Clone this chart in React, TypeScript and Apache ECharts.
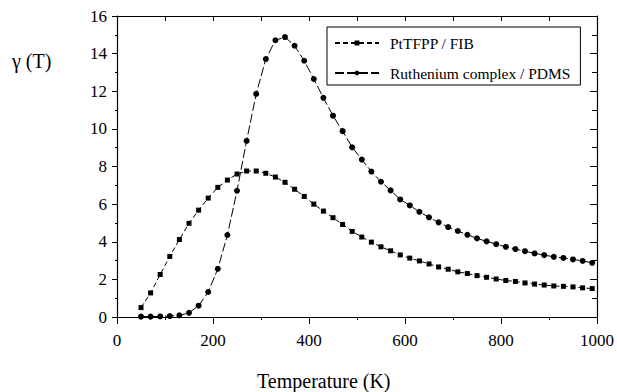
import React, { useEffect, useRef } from "react";
import * as echarts from "echarts";

const temperatures = [
  50, 70, 90, 110, 130, 150, 170, 190, 210, 230, 250, 270, 290, 310, 330, 350,
  370, 390, 410, 430, 450, 470, 490, 510, 530, 550, 570, 590, 610, 630, 650, 670,
  690, 710, 730, 750, 770, 790, 810, 830, 850, 870, 890, 910, 930, 950, 970, 990,
];

const ptValues = [
  0.5, 1.28, 2.26, 3.22, 4.12, 4.98, 5.68, 6.32, 6.89, 7.28, 7.6, 7.76, 7.76, 7.64, 7.44, 7.16,
  6.79, 6.41, 6.0, 5.63, 5.28, 4.92, 4.55, 4.25, 3.98, 3.73, 3.52, 3.3, 3.13, 2.98, 2.82, 2.66,
  2.54, 2.4, 2.31, 2.2, 2.11, 2.02, 1.94, 1.89, 1.81, 1.75, 1.7, 1.65, 1.63, 1.6, 1.55, 1.51,
];

const ruValues = [
  0.02, 0.02, 0.03, 0.05, 0.09, 0.22, 0.6, 1.33, 2.56, 4.36, 6.71, 9.36, 11.86, 13.71, 14.71, 14.88,
  14.42, 13.62, 12.65, 11.65, 10.7, 9.88, 9.02, 8.37, 7.73, 7.19, 6.73, 6.25, 5.93, 5.59, 5.3, 5.03,
  4.78, 4.57, 4.37, 4.18, 4.02, 3.87, 3.73, 3.61, 3.5, 3.38, 3.29, 3.2, 3.14, 3.06, 2.98, 2.88,
];

const seriesNames = ["PtTFPP / FIB", "Ruthenium complex / PDMS"];
const xAxisTitle = "Temperature (K)";
const yAxisTitle = "γ (T)";

const FONT = "Liberation Serif, Times New Roman, serif";

export default function App() {
  const ref = useRef<HTMLDivElement>(null);

  useEffect(() => {
    if (!ref.current) return;
    const chart = echarts.init(ref.current, null, { renderer: "svg" });
    const pairs = (vals: number[]) => temperatures.map((t, i) => [t, vals[i]]);
    const axisLine = { show: true, onZero: false, lineStyle: { color: "#000", width: 1.2 } };
    const plain = (v: number) => String(v);
    const tickText = {
      fontFamily: FONT,
      fontSize: 17,
      fontWeight: "normal",
      color: "#000",
    };

    chart.setOption({
      animation: false,
      backgroundColor: "#fff",
      textStyle: { fontFamily: FONT, color: "#000" },
      grid: { left: 117, right: 20, top: 16, bottom: 75 },
      legend: {
        left: 327,
        top: 27,
        orient: "vertical",
        padding: [8, 10, 4, 7],
        itemWidth: 44,
        itemHeight: 6,
        itemGap: 14,
        borderColor: "#000",
        borderWidth: 1,
        backgroundColor: "#fff",
        textStyle: {
          fontFamily: FONT,
          fontSize: 15.5,
          lineHeight: 14,
          color: "#000",
          padding: [0, 0, 0, 6],
        },
        data: seriesNames,
      },
      graphic: [
        {
          type: "text",
          left: 257,
          top: 371,
          style: { text: xAxisTitle, fontFamily: FONT, fontSize: 20, fill: "#000" },
        },
        {
          type: "text",
          left: 12,
          top: 51,
          style: { text: yAxisTitle, fontFamily: FONT, fontSize: 20, fill: "#000" },
        },
      ],
      xAxis: [
        {
          type: "value",
          position: "bottom",
          min: 0,
          max: 1000,
          interval: 200,
          axisLine,
          axisTick: { show: true, inside: false, length: 7, lineStyle: { color: "#000" } },
          minorTick: { show: true, splitNumber: 2, length: 3, lineStyle: { color: "#000" } },
          splitLine: { show: false },
          axisLabel: { ...tickText, margin: 15, formatter: plain },
        },
        {
          type: "value",
          position: "top",
          min: 0,
          max: 1000,
          interval: 100,
          axisLine,
          axisTick: { show: true, inside: true, length: 5, lineStyle: { color: "#000" } },
          splitLine: { show: false },
          axisLabel: { show: false },
        },
      ],
      yAxis: [
        {
          type: "value",
          position: "left",
          min: 0,
          max: 16,
          interval: 2,
          axisLine,
          axisTick: { show: true, inside: false, length: 5, lineStyle: { color: "#000" } },
          minorTick: { show: true, splitNumber: 2, length: 2, lineStyle: { color: "#000" } },
          splitLine: { show: false },
          axisLabel: { ...tickText, margin: 10, formatter: plain },
        },
        {
          type: "value",
          position: "right",
          min: 0,
          max: 16,
          interval: 2,
          axisLine,
          axisTick: { show: true, inside: true, length: 7, lineStyle: { color: "#000" } },
          minorTick: { show: true, splitNumber: 2, length: 5, lineStyle: { color: "#000" } },
          splitLine: { show: false },
          axisLabel: { show: false },
        },
      ],
      series: [
        {
          name: seriesNames[0],
          type: "line",
          xAxisIndex: 0,
          yAxisIndex: 0,
          data: pairs(ptValues),
          symbol: "rect",
          symbolSize: 5,
          showAllSymbol: true,
          itemStyle: { color: "#000" },
          lineStyle: { color: "#000", width: 1, type: [5, 3] },
        },
        {
          name: seriesNames[1],
          type: "line",
          xAxisIndex: 0,
          yAxisIndex: 0,
          data: pairs(ruValues),
          symbol: "circle",
          symbolSize: 6,
          showAllSymbol: true,
          itemStyle: { color: "#000" },
          lineStyle: { color: "#000", width: 1, type: [9, 3] },
        },
      ],
    });

    return () => chart.dispose();
  }, []);

  return (
    <div
      ref={ref}
      style={{ position: "fixed", left: 0, top: 0, width: 617, height: 392, background: "#fff" }}
    />
  );
}
